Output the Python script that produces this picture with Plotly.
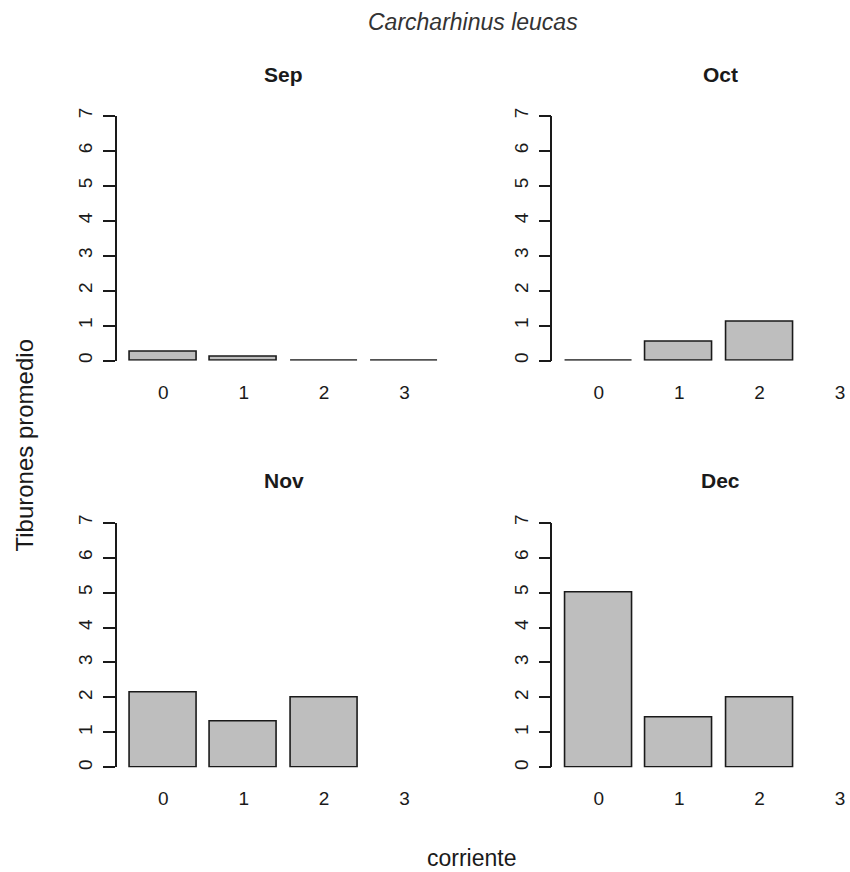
import plotly.graph_objects as go

# Average sharks per current level, by month
months = ["Sep", "Oct", "Nov", "Dec"]
corriente = [0, 1, 2, 3]
tick_labels = ["0", "1", "2", "3"]
sep_vals = [0.24, 0.11, 0.0, 0.0]
oct_vals = [0.0, 0.53, 1.11]
nov_vals = [2.14, 1.31, 2.0]
dec_vals = [5.0, 1.44, 2.0]
y_ticks = [0, 1, 2, 3, 4, 5, 6, 7]

W, H = 850, 872
FONT = "Liberation Sans, Arial, sans-serif"
BAR_FILL = "#bebebe"
INK = "#1a1a1a"

unit = 80.5            # pixels per category step
x_lo = -0.578          # left edge of every panel, in category units


def py(pix):
    """Vertical pixel position (from top) -> paper fraction."""
    return 1 - ((pix - 6.2) / 0.989) / H


# panel geometry in pixels: (axis-left x, y of value 0, x-range top)
panels = [
    (months[0], sep_vals, 117, 359, 3.62),
    (months[1], oct_vals, 553, 359, 3.05),
    (months[2], nov_vals, 117, 766, 3.62),
    (months[3], dec_vals, 553, 766, 3.05),
]
ypx = 35.0             # pixels per y unit

fig = go.Figure()
layout = dict(
    width=W, height=H,
    margin=dict(l=0, r=0, t=0, b=0),
    plot_bgcolor="white", paper_bgcolor="white",
    showlegend=False, bargap=0,
    font=dict(family=FONT, color=INK),
)
annotations = []

for i, (name, vals, left, base, x_hi) in enumerate(panels, start=1):
    xa = "x" if i == 1 else f"x{i}"
    ya = "y" if i == 1 else f"y{i}"
    fig.add_trace(go.Bar(
        x=corriente[:len(vals)], y=vals, width=0.833,
        marker=dict(color=BAR_FILL, line=dict(color=INK, width=1.6)),
        xaxis=xa, yaxis=ya, cliponaxis=False, hoverinfo="x+y",
    ))
    right = left + (x_hi - x_lo) * unit
    top = base - 7 * ypx
    xkey = "xaxis" if i == 1 else f"xaxis{i}"
    ykey = "yaxis" if i == 1 else f"yaxis{i}"
    layout[xkey] = dict(
        domain=[left / W, right / W], range=[x_lo, x_hi],
        anchor=ya, tickmode="array", tickvals=corriente, ticktext=tick_labels,
        showline=False, showgrid=False, zeroline=False, ticks="",
        ticklabelstandoff=18, tickfont=dict(size=19, family=FONT, color=INK),
    )
    layout[ykey] = dict(
        domain=[py(base), py(top)], range=[0, 7],
        anchor=xa, tickmode="array", tickvals=y_ticks,
        showline=True, linecolor=INK, linewidth=1.6,
        ticks="outside", ticklen=12, tickwidth=1.6, tickcolor=INK,
        showgrid=False, zeroline=False, tickangle=-90,
        ticklabelstandoff=3, tickfont=dict(size=19, family=FONT, color=INK),
    )
    cx = 284 if left < 400 else 721
    ty = 73 if base < 400 else 479
    annotations.append(dict(
        text=f"<b>{name}</b>", x=cx / W, y=py(ty), xref="paper", yref="paper",
        showarrow=False, xanchor="center", yanchor="middle",
        font=dict(size=21, family=FONT, color=INK),
    ))

annotations += [
    dict(text="<i>Carcharhinus leucas</i>", x=473.5 / W, y=py(20),
         xref="paper", yref="paper", showarrow=False,
         xanchor="center", yanchor="middle",
         font=dict(size=23, family=FONT, color="#333333")),
    dict(text="corriente", x=472 / W, y=py(857),
         xref="paper", yref="paper", showarrow=False,
         xanchor="center", yanchor="middle",
         font=dict(size=23, family=FONT, color=INK)),
    dict(text="Tiburones promedio", x=25 / W, y=py(443),
         xref="paper", yref="paper", showarrow=False, textangle=-90,
         xanchor="center", yanchor="middle",
         font=dict(size=24, family=FONT, color=INK)),
]
layout["annotations"] = annotations
fig.update_layout(**layout)
fig.write_html("out.html")
